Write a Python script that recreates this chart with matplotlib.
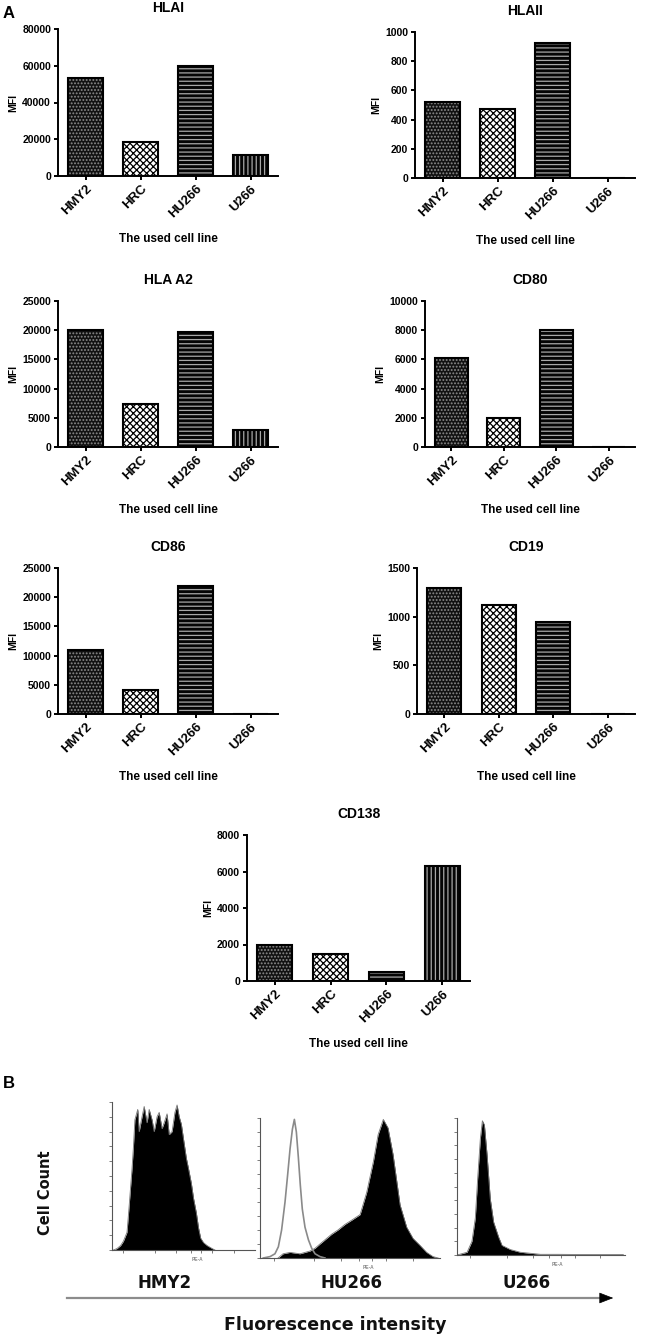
import numpy as np
import matplotlib
matplotlib.use('Agg')
import matplotlib.pyplot as plt

# ---- panel A data (MFI per cell line) ----
cell_lines = ['HMY2', 'HRC', 'HU266', 'U266']
hlai = [53200, 18600, 59600, 11200]
hlaii = [523, 470, 927, 0]
hla_a2 = [20000, 7400, 19750, 2960]
cd80 = [6070, 2000, 7980, 0]
cd86 = [10900, 4100, 22000, 0]
cd19 = [1290, 1120, 945, 0]
cd138 = [2000, 1480, 510, 6300]

# ---- panel B data (histogram outlines, % of axis width / % of max count) ----
hmy2_x = [1, 3.5, 6, 8, 10.5, 12, 14, 15, 16, 18, 19, 21, 22.5, 24.5, 26, 28, 29.5, 31.5, 33, 35,
          36.5, 38.5, 40, 42, 44, 45.5, 47, 48.5, 50, 52, 53.5, 55.5, 57, 59, 60.5, 62, 64, 66.5, 70, 72]
hmy2_y = [0, 1, 3, 6, 12, 30, 55, 70, 88, 95, 80, 90, 97, 86, 95, 88, 80, 90, 93, 82,
          86, 92, 78, 80, 93, 98, 90, 85, 75, 62, 55, 45, 35, 25, 15, 8, 5, 3, 1, 0]

hu266_ctrl_x = [1.8, 5.6, 8.3, 10.2, 12.0, 13.9, 15.4, 16.7, 18.0, 19.1, 20.2, 21.3, 22.4, 23.5,
                25.0, 26.9, 28.7, 30.6, 33.3, 36.1]
hu266_ctrl_y = [0, 1, 3, 8, 20, 40, 60, 78, 92, 99, 90, 72, 52, 35, 22, 13, 7, 3, 1, 0]

hu266_x = [10, 12.8, 16.7, 22.2, 27.8, 30.6, 33.3, 36.1, 39.8, 43.3, 47.2, 50.9, 55.6, 59.3, 63.0,
           65.6, 68.5, 71.1, 73.9, 77.8, 81.5, 85.0, 88.9, 92.6, 96.1, 99]
hu266_y = [0, 3, 4, 3, 5, 7, 10, 13, 17, 20, 24, 27, 31, 47, 69, 88, 99, 93, 74, 38, 22, 14, 9, 4, 1, 0]

u266_x = [0, 3, 6.0, 8.9, 10.9, 12.3, 13.9, 15.1, 16.3, 17.9, 19.8, 21.8, 24.8, 26.8, 31.7, 37.7,
          49.6, 60, 80, 99]
u266_y = [0, 1, 2, 10, 27, 56, 85, 98, 95, 73, 41, 24, 13, 7, 4, 2, 0.5, 0.5, 0.3, 0.3]

W, H = 645, 1339
plt.rcParams['font.family'] = ['Liberation Sans', 'DejaVu Sans']
plt.rcParams['font.weight'] = 'bold'
plt.rcParams['hatch.linewidth'] = 0.9

fig = plt.figure(figsize=(W / 100, H / 100), dpi=100, facecolor='white')


def px_axes(left, top, right, bottom):
    return fig.add_axes([left / W, 1 - bottom / H, (right - left) / W, (bottom - top) / H])


# fill style per cell line: (face, hatch colour, hatch)
styles = [('#111111', '#8c8c8c', '.....'),
          ('white', 'black', 'xxxxx'),
          ('#050505', '#a8a8a8', '----'),
          ('#050505', '#a8a8a8', '||||')]


def bar_panel(rect, title, values, ymax, step):
    ax = px_axes(*rect)
    x = np.arange(len(cell_lines))
    for i, v in enumerate(values):
        face, hcol, hatch = styles[i]
        ax.bar(x[i], v, 0.63, color=face, edgecolor=hcol, hatch=hatch, linewidth=0)
        ax.bar(x[i], v, 0.63, fill=False, edgecolor='black', linewidth=1.5)
    ax.set_xlim(-0.5, 3.5)
    ax.set_ylim(0, ymax)
    ticks = np.arange(0, ymax + step / 2, step)
    ax.set_yticks(ticks)
    ax.set_yticklabels([str(int(t)) for t in ticks], fontsize=7.5, fontweight='bold')
    ax.set_xticks(x)
    ax.set_xticklabels(cell_lines, rotation=45, ha='right', rotation_mode='anchor',
                       fontsize=9.5, fontweight='bold')
    for s in ['top', 'right']:
        ax.spines[s].set_visible(False)
    for s in ['left', 'bottom']:
        ax.spines[s].set_linewidth(1.4)
    ax.tick_params(width=1.4, length=3, pad=2)
    ax.set_title(title, fontsize=10, fontweight='bold', pad=12)
    ax.set_ylabel('MFI', fontsize=7.5, fontweight='bold', labelpad=3)
    ax.set_xlabel('The used cell line', fontsize=8.5, fontweight='bold')
    ax.xaxis.set_label_coords(0.5, -57 / (rect[3] - rect[1]))
    return ax


bar_panel((58, 29, 278, 176), 'HLAI', hlai, 80000, 20000)
bar_panel((415, 32, 635, 178), 'HLAII', hlaii, 1000, 200)
bar_panel((58, 301, 278, 447), 'HLA A2', hla_a2, 25000, 5000)
bar_panel((425, 301, 635, 447), 'CD80', cd80, 10000, 2000)
bar_panel((58, 568, 278, 714), 'CD86', cd86, 25000, 5000)
bar_panel((417, 568, 635, 714), 'CD19', cd19, 1500, 500)
bar_panel((247, 835, 470, 981), 'CD138', cd138, 8000, 2000)


def hist_panel(rect):
    ax = px_axes(*rect)
    ax.set_xlim(0, 100)
    ax.set_ylim(0, 100)
    for s in ['top', 'right']:
        ax.spines[s].set_visible(False)
    for s in ['left', 'bottom']:
        ax.spines[s].set_linewidth(0.8)
        ax.spines[s].set_color('#555555')
    ax.set_yticks(np.arange(0, 101, 10))
    ax.set_xticks([8, 30, 45, 55, 62, 70, 85])
    ax.set_yticklabels([])
    ax.set_xticklabels([])
    ax.tick_params(length=2, width=0.6, color='#666666')
    ax.text(0.6, -0.05, 'PE-A', transform=ax.transAxes, fontsize=3.5, color='#888888',
            ha='center', va='top')
    return ax


ax1 = hist_panel((112, 1102, 255, 1250))
ax1.fill_between(hmy2_x, hmy2_y, color='black', lw=0)
ax1.plot(hmy2_x, hmy2_y, color='#777777', lw=0.6)

ax2 = hist_panel((260, 1118, 440, 1258))
ax2.fill_between(hu266_x, hu266_y, color='black', lw=0)
ax2.plot(hu266_x, hu266_y, color='#777777', lw=0.6)
ax2.plot(hu266_ctrl_x, hu266_ctrl_y, color='#8a8a8a', lw=1.2)

ax3 = hist_panel((457, 1118, 625, 1255))
ax3.fill_between(u266_x, u266_y, color='black', lw=0)
ax3.plot(u266_x, u266_y, color='#777777', lw=0.6)

# overlay in pixel coords for panel letters, arrow and labels
ov = fig.add_axes([0, 0, 1, 1])
ov.set_xlim(0, W)
ov.set_ylim(H, 0)
ov.axis('off')
ov.patch.set_alpha(0)

ov.text(3, 13, 'A', fontsize=12, fontweight='bold', va='center', ha='left')
ov.text(3, 1083, 'B', fontsize=12, fontweight='bold', va='center', ha='left')

bfont = dict(family=['DejaVu Sans'], fontweight='bold', color='#111111')
ov.text(165, 1283, 'HMY2', fontsize=12, ha='center', va='center', **bfont)
ov.text(352, 1283, 'HU266', fontsize=12, ha='center', va='center', **bfont)
ov.text(527, 1283, 'U266', fontsize=12, ha='center', va='center', **bfont)
ov.text(335, 1325, 'Fluorescence intensity', fontsize=12.5, ha='center', va='center', **bfont)
ov.text(46, 1193, 'Cell Count', fontsize=10.5, rotation=90, ha='center', va='center', **bfont)

ov.plot([67, 600], [1298, 1298], color='#8c8c8c', lw=1.6)
ov.annotate('', xy=(616, 1298), xytext=(598, 1298),
            arrowprops=dict(arrowstyle='-|>,head_length=0.9,head_width=0.35',
                            color='black', lw=0.5))

fig.savefig('out.png', dpi=100, facecolor='white')
